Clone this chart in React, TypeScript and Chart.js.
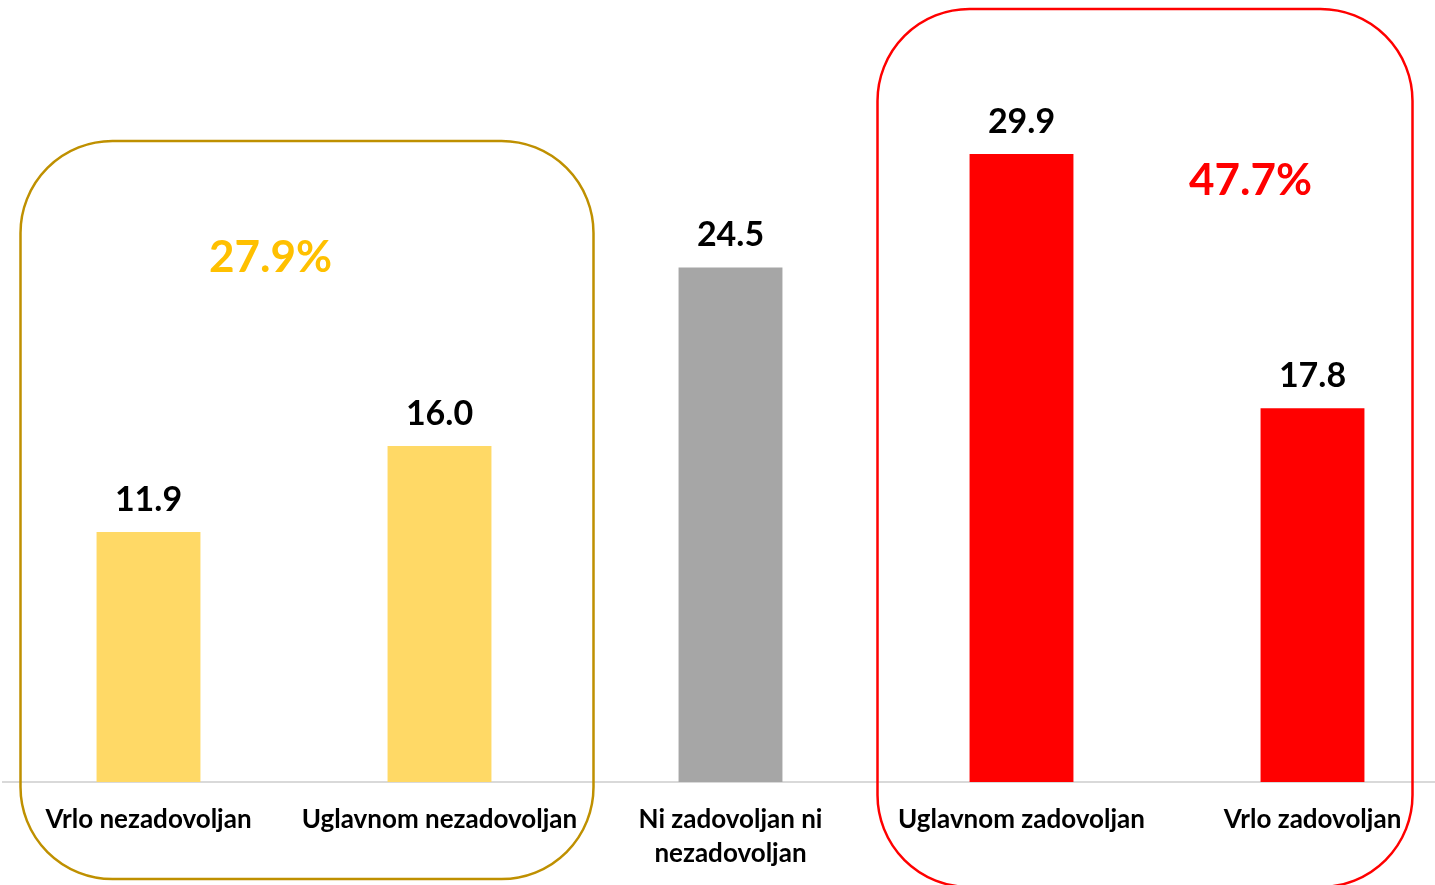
import React, { useEffect, useRef } from "react";
import { Chart, registerables } from "chart.js";

Chart.register(...registerables);

const categories: (string | string[])[] = [
  "Vrlo nezadovoljan",
  "Uglavnom nezadovoljan",
  ["Ni zadovoljan ni", "nezadovoljan"],
  "Uglavnom zadovoljan",
  "Vrlo zadovoljan",
];
const values = [11.9, 16.0, 24.5, 29.9, 17.8];
const barColors = ["#FFD966", "#FFD966", "#A6A6A6", "#FF0000", "#FF0000"];
const dissatisfiedIdx = [0, 1];
const satisfiedIdx = [3, 4];

const FONT = "Lato, 'Open Sans', sans-serif";

function roundRect(ctx: CanvasRenderingContext2D, x1: number, y1: number, x2: number, y2: number, r: number) {
  ctx.beginPath();
  ctx.moveTo(x1 + r, y1);
  ctx.lineTo(x2 - r, y1);
  ctx.arcTo(x2, y1, x2, y1 + r, r);
  ctx.lineTo(x2, y2 - r);
  ctx.arcTo(x2, y2, x2 - r, y2, r);
  ctx.lineTo(x1 + r, y2);
  ctx.arcTo(x1, y2, x1, y2 - r, r);
  ctx.lineTo(x1, y1 + r);
  ctx.arcTo(x1, y1, x1 + r, y1, r);
  ctx.closePath();
}

const overlayPlugin = {
  id: "overlay",
  afterDatasetsDraw(chart: any) {
    const ctx: CanvasRenderingContext2D = chart.ctx;
    const meta = chart.getDatasetMeta(0);
    const xs = chart.scales.x;
    ctx.save();
    // value labels
    ctx.fillStyle = "#000000";
    ctx.font = `bold 34px ${FONT}`;
    ctx.textAlign = "center";
    ctx.textBaseline = "middle";
    meta.data.forEach((bar: any, i: number) => {
      ctx.fillText(values[i].toFixed(1), bar.x, bar.y - 32);
    });

    // group boxes
    ctx.lineWidth = 2.5;
    ctx.strokeStyle = "#BF9000";
    roundRect(
      ctx,
      xs.getPixelForValue(dissatisfiedIdx[0]) - 128,
      141,
      xs.getPixelForValue(dissatisfiedIdx[1]) + 154,
      879,
      92
    );
    ctx.stroke();
    ctx.strokeStyle = "#FF0000";
    roundRect(
      ctx,
      xs.getPixelForValue(satisfiedIdx[0]) - 144,
      9,
      xs.getPixelForValue(satisfiedIdx[1]) + 100,
      887,
      92
    );
    ctx.stroke();

    // group totals
    const sumD = dissatisfiedIdx.reduce((s, i) => s + values[i], 0);
    const sumS = satisfiedIdx.reduce((s, i) => s + values[i], 0);
    ctx.font = `bold 44px ${FONT}`;
    ctx.fillStyle = "#FFC000";
    ctx.fillText(sumD.toFixed(1) + "%", xs.getPixelForValue(dissatisfiedIdx[0]) + 122, 258);
    ctx.fillStyle = "#FF0000";
    ctx.fillText(sumS.toFixed(1) + "%", xs.getPixelForValue(satisfiedIdx[0]) + 229, 181);
    ctx.restore();
  },
};

export default function App() {
  const ref = useRef<HTMLCanvasElement>(null);
  useEffect(() => {
    document.body.style.margin = "0";
    document.body.style.overflow = "hidden";
    const chart = new Chart(ref.current!, {
      type: "bar",
      data: {
        labels: categories,
        datasets: [
          {
            data: values,
            backgroundColor: barColors,
            barPercentage: 0.357,
            categoryPercentage: 1,
          },
        ],
      },
      options: {
        animation: false,
        responsive: true,
        maintainAspectRatio: false,
        layout: { padding: { left: 3, right: 2, top: 47, bottom: 0 } },
        plugins: { legend: { display: false }, tooltip: { enabled: false } },
        scales: {
          x: {
            grid: { display: false, drawTicks: false },
            border: { display: true, color: "#D9D9D9", width: 2 },
            ticks: {
              color: "#000000",
              font: { family: FONT, size: 26, weight: "bold", lineHeight: 1.31 },
              padding: 21,
              maxRotation: 0,
              autoSkip: false,
            },
            afterFit: (scale: any) => {
              scale.height = 103;
            },
          },
          y: {
            display: false,
            min: 0,
            max: 35,
          },
        },
      },
      plugins: [overlayPlugin],
    });
    return () => chart.destroy();
  }, []);
  return (
    <div style={{ position: "fixed", left: 0, top: 0, width: 1435, height: 885, overflow: "hidden", background: "#fff" }}>
      <div style={{ position: "absolute", left: 0, top: 0, width: 1460, height: 885 }}>
        <canvas ref={ref} />
      </div>
    </div>
  );
}
